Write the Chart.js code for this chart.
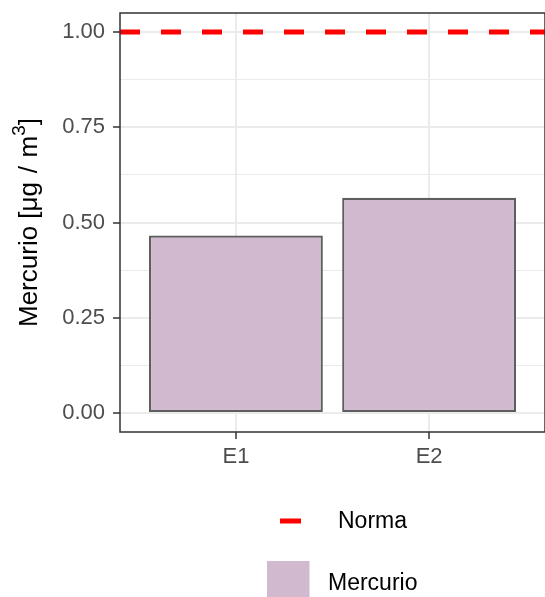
<!DOCTYPE html>
<html lang="es">
<head>
<meta charset="utf-8">
<title>Mercurio</title>
<script src="https://cdn.jsdelivr.net/npm/chart.js@4.4.1/dist/chart.umd.min.js"></script>
<style>
  html, body { margin: 0; padding: 0; background: #ffffff; overflow: hidden; }
  #wrap { position: relative; width: 545px; height: 597px; }
</style>
</head>
<body>
<div id="wrap"><canvas id="chart"></canvas></div>
<script>
// Estaciones y concentraciones medidas
const CATEGORIES = ['E1', 'E2'];
const MERCURIO = [0.466, 0.565];
// Valor de referencia (norma)
const NORMA = 1.0;
// Ejes
const Y_LIMITS = [-0.05, 1.05];
const Y_MAJOR = [0, 0.25, 0.5, 0.75, 1.0];
const Y_MINOR = [0.125, 0.375, 0.625, 0.875];
const X_LIMITS = [0.4, 2.6];
const X_POSITIONS = [1, 2];

const FONT = "'Liberation Sans', Arial, Helvetica, sans-serif";
const GRID = '#EBEBEB';
const DARK = '#333333';
const TICK_TEXT = '#4D4D4D';
const FILL = '#D1B9CF';
const RED = '#FF0000';

Chart.defaults.font.family = FONT;

const isMajor = v => Y_MAJOR.some(m => Math.abs(m - v) < 1e-9);

// Borde del panel, título del eje Y y leyenda
const decor = {
  id: 'decor',
  afterDraw(chart) {
    const { ctx, chartArea: a } = chart;
    ctx.save();
    ctx.strokeStyle = DARK;
    ctx.lineWidth = 1.5;
    ctx.strokeRect(a.left, a.top, a.right - a.left, a.bottom - a.top);

    // Título del eje Y con superíndice
    const size = 26;
    const supSize = Math.round(size * 0.72);
    const main = 'Mercurio [\u03BCg\u2004/\u2004m';
    const sup = '3';
    const tail = ']';
    ctx.fillStyle = '#000000';
    ctx.textBaseline = 'alphabetic';
    ctx.font = size + 'px ' + FONT;
    const wMain = ctx.measureText(main).width;
    const wTail = ctx.measureText(tail).width;
    ctx.font = supSize + 'px ' + FONT;
    const wSup = ctx.measureText(sup).width;
    const total = wMain + wSup + wTail;
    ctx.translate(37, (a.top + a.bottom) / 2);
    ctx.rotate(-Math.PI / 2);
    let x = -total / 2;
    ctx.textAlign = 'left';
    ctx.font = size + 'px ' + FONT;
    ctx.fillText(main, x, 0);
    x += wMain;
    ctx.font = supSize + 'px ' + FONT;
    ctx.fillText(sup, x, -12);
    x += wSup;
    ctx.font = size + 'px ' + FONT;
    ctx.fillText(tail, x, 0);
    ctx.restore();

    // Leyenda (dos guías independientes)
    const line = chart.data.datasets.find(d => d.type === 'line');
    const bar = chart.data.datasets.find(d => d.type === 'bar');
    ctx.save();
    ctx.font = '23px ' + FONT;
    ctx.fillStyle = '#000000';
    ctx.textAlign = 'left';
    ctx.textBaseline = 'middle';

    ctx.strokeStyle = line.borderColor;
    ctx.lineWidth = line.borderWidth;
    ctx.beginPath();
    ctx.moveTo(280, 521);
    ctx.lineTo(301, 521);
    ctx.stroke();
    ctx.fillText(line.label, 338, 522);

    ctx.fillStyle = bar.backgroundColor;
    ctx.fillRect(267, 561, 42.5, 43);
    ctx.fillStyle = '#000000';
    ctx.fillText(bar.label, 328, 584);
    ctx.restore();
  }
};

new Chart(document.getElementById('chart'), {
  data: {
    datasets: [
      {
        type: 'line',
        label: 'Norma',
        data: X_LIMITS.map(x => ({ x, y: NORMA })),
        borderColor: RED,
        borderWidth: 5,
        borderDash: [20, 21],
        borderCapStyle: 'butt',
        pointRadius: 0,
        order: 0
      },
      {
        type: 'bar',
        label: 'Mercurio',
        data: CATEGORIES.map((c, i) => ({ x: X_POSITIONS[i], y: MERCURIO[i] })),
        backgroundColor: FILL,
        borderColor: '#5E5E5E',
        borderWidth: 2.2,
        borderSkipped: false,
        categoryPercentage: 1,
        barPercentage: 0.9,
        order: 1
      }
    ]
  },
  options: {
    responsive: true,
    maintainAspectRatio: false,
    animation: false,
    events: [],
    layout: { padding: { top: 13, right: -3, bottom: 125, left: 0 } },
    plugins: { legend: { display: false }, tooltip: { enabled: false } },
    scales: {
      x: {
        type: 'linear',
        min: X_LIMITS[0],
        max: X_LIMITS[1],
        offset: false,
        afterBuildTicks: s => { s.ticks = X_POSITIONS.map(v => ({ value: v })); },
        afterFit: s => { s.height = 40; s.paddingLeft = 0; s.paddingRight = 0; },
        ticks: {
          autoSkip: false,
          maxRotation: 0,
          padding: 5,
          color: TICK_TEXT,
          font: { size: 22 },
          callback: v => CATEGORIES[X_POSITIONS.indexOf(v)]
        },
        grid: {
          offset: false,
          color: GRID,
          lineWidth: 2,
          drawTicks: true,
          tickLength: 7,
          tickColor: DARK,
          tickWidth: 1.5
        },
        border: { display: false }
      },
      y: {
        type: 'linear',
        min: Y_LIMITS[0],
        max: Y_LIMITS[1],
        afterBuildTicks: s => {
          s.ticks = [...Y_MAJOR, ...Y_MINOR].sort((a, b) => a - b).map(v => ({ value: v }));
        },
        afterFit: s => { s.width = 120; s.paddingTop = 0; s.paddingBottom = 0; },
        ticks: {
          padding: 8,
          color: TICK_TEXT,
          font: { size: 22 },
          callback: v => isMajor(v) ? v.toFixed(2) : ''
        },
        grid: {
          color: GRID,
          lineWidth: c => isMajor(c.tick.value) ? 2 : 1,
          drawTicks: true,
          tickLength: 7,
          tickColor: c => isMajor(c.tick.value) ? DARK : 'rgba(0,0,0,0)',
          tickWidth: 1.5
        },
        border: { display: false }
      }
    }
  },
  plugins: [decor]
});
</script>
</body>
</html>
